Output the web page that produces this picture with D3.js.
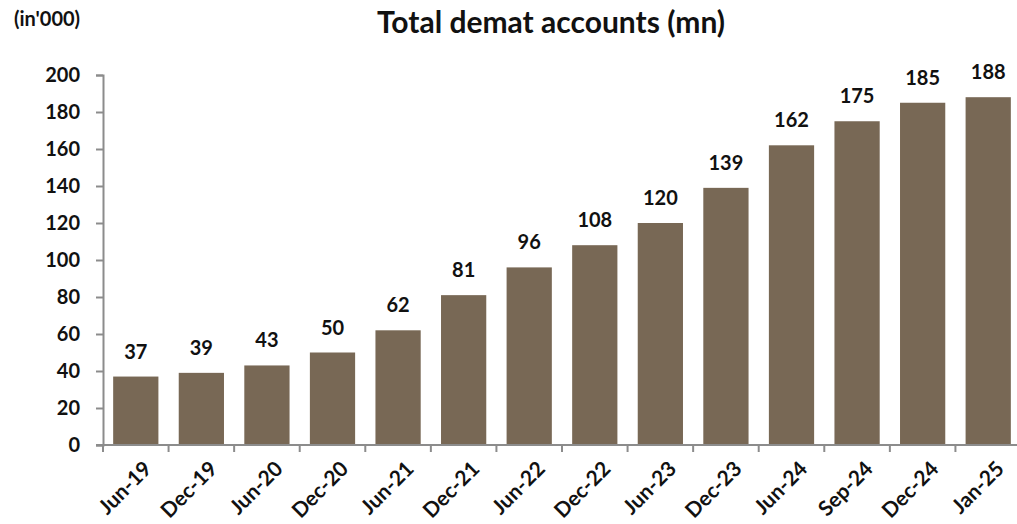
<!DOCTYPE html>
<html>
<head>
<meta charset="utf-8">
<script src="https://cdn.jsdelivr.net/npm/d3@7"></script>
<style>
  body { margin: 0; background: #fff; }
  svg { display: block; font-family: Lato, "Open Sans", sans-serif; font-weight: bold; }
</style>
</head>
<body>
<svg id="chart" width="1017" height="524"></svg>
<script>
// Total demat accounts, in millions
const periods = ["Jun-19","Dec-19","Jun-20","Dec-20","Jun-21","Dec-21","Jun-22","Dec-22","Jun-23","Dec-23","Jun-24","Sep-24","Dec-24","Jan-25"];
const accounts = [37, 39, 43, 50, 62, 81, 96, 108, 120, 139, 162, 175, 185, 188];
const yTicks = [0, 20, 40, 60, 80, 100, 120, 140, 160, 180, 200];

const svg = d3.select("#chart");
const plot = { left: 103, right: 1021, top: 75, bottom: 445 };
const barColor = "#786855";
const axisColor = "#8c8c8c";

const x = d3.scaleBand().domain(periods).range([plot.left, plot.right]).paddingInner(0.31).paddingOuter(0.155);
const y = d3.scaleLinear().domain([0, 200]).range([plot.bottom, plot.top]);

// title and unit note
svg.append("text").attr("x", 551).attr("y", 33).attr("text-anchor", "middle")
  .attr("font-size", 30).attr("fill", "#111").text("Total demat accounts (mn)");
svg.append("text").attr("x", 14).attr("y", 26).attr("font-size", 20).attr("fill", "#111").text("(in'000)");

// bars
svg.selectAll("rect.bar").data(accounts).join("rect")
  .attr("class", "bar")
  .attr("x", (d, i) => x(periods[i]))
  .attr("y", d => y(d))
  .attr("width", x.bandwidth())
  .attr("height", d => y(0) - y(d))
  .attr("fill", barColor);

// value labels
svg.selectAll("text.val").data(accounts).join("text")
  .attr("class", "val")
  .attr("x", (d, i) => x(periods[i]) + x.bandwidth() / 2)
  .attr("y", d => y(d) - 18)
  .attr("text-anchor", "middle")
  .attr("font-size", 20).attr("fill", "#111")
  .text(d => d);

// y axis
const yAxis = svg.append("g").attr("transform", `translate(${plot.left},0)`)
  .call(d3.axisLeft(y).tickValues(yTicks).tickSize(7).tickSizeOuter(7).tickPadding(16));
yAxis.selectAll("text").attr("font-size", 20).attr("fill", "#111").attr("font-family", "Lato, sans-serif").attr("font-weight", "bold");
yAxis.selectAll("path.domain").attr("stroke", axisColor).attr("stroke-width", 2);
yAxis.selectAll(".tick line").attr("stroke", axisColor).attr("stroke-width", 2);

// x axis with ticks on band boundaries
const xAxis = svg.append("g").attr("transform", `translate(0,${plot.bottom})`);
xAxis.append("line").attr("x1", plot.left - 7).attr("x2", plot.right).attr("y1", 0).attr("y2", 0)
  .attr("stroke", axisColor).attr("stroke-width", 2);
const step = x.step();
xAxis.selectAll("line.tk").data(d3.range(periods.length)).join("line")
  .attr("class", "tk")
  .attr("x1", i => plot.left + i * step).attr("x2", i => plot.left + i * step)
  .attr("y1", 0).attr("y2", 7)
  .attr("stroke", axisColor).attr("stroke-width", 2);
xAxis.selectAll("text").data(periods).join("text")
  .attr("transform", d => `translate(${x(d) + x.bandwidth() / 2 + 6},${14}) rotate(-45)`)
  .attr("text-anchor", "end")
  .attr("dy", "0.75em")
  .attr("font-size", 21).attr("fill", "#111")
  .text(d => d);
</script>
</body>
</html>
